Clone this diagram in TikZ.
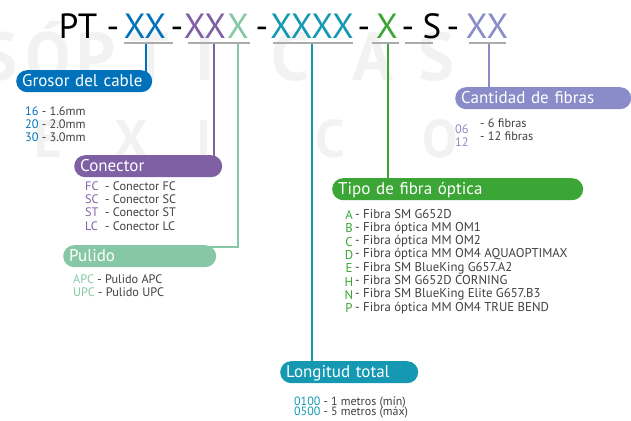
\documentclass[tikz,border=0pt]{standalone}
\usepackage{fontspec}
\setmainfont{PT Sans}
\usetikzlibrary{backgrounds}

\definecolor{cblue}{HTML}{0072BC}
\definecolor{cpurple}{HTML}{8060A5}
\definecolor{cmint}{HTML}{86C8A5}
\definecolor{cteal}{HTML}{1598B2}
\definecolor{cgreen}{HTML}{3BA536}
\definecolor{clav}{HTML}{898CC8}
\definecolor{itemg}{HTML}{404040}
\definecolor{lineg}{HTML}{ABABAB}
\definecolor{wmarkg}{HTML}{F2F2F2}

\tikzset{
  tag/.style={fill=#1, text=white, rounded corners=11pt, anchor=north west,
    minimum height=22pt, inner xsep=6pt, inner ysep=0pt, align=left,
    text height=13pt, text depth=3pt, font=\fontsize{17}{20}\selectfont},
  wire/.style={draw=#1, line width=2pt},
  uline/.style={draw=lineg, line width=2.5pt},
  head/.style={anchor=base, inner sep=0pt, text=#1, font=\fontsize{35}{40}\selectfont},
  code/.style={inner sep=0pt, text=#1, font=\fontsize{12.3}{14}\selectfont},
  item/.style={anchor=base west, inner sep=0pt, text=itemg, font=\fontsize{12.3}{14}\selectfont},
  wmark/.style={anchor=base, inner sep=0pt, text=wmarkg, font=\bfseries\fontsize{#1}{#1}\selectfont},
}

\begin{document}
\begin{tikzpicture}[x=1pt,y=-1pt]
\useasboundingbox (0,0) rectangle (631,420);

% codigo
\node[head=black] (hPT) at (78,38) {PT};
\node[head=black] (hD1) at (113,38) {-};
\node[head=cblue] (hGrosor) at (145,38) {XX};
\node[head=black] (hD2) at (177,38) {-};
\node[head=cpurple] (hCon) at (205,38) {XX};
\node[head=cmint] (hPul) at (238,38) {X};
\node[head=black] (hD3) at (262,38) {-};
\node[head=cteal] (hLong) at (312,38) {XXXX};
\node[head=black] (hD4) at (364,38) {-};
\node[head=cgreen] (hTipo) at (387,38) {X};
\node[head=black] (hD5) at (408,38) {-};
\node[head=black] (hS) at (432,38) {S};
\node[head=black] (hD6) at (453,38) {-};
\node[head=clav] (hCant) at (487,38) {XX};

\draw[uline] (124,43) -- (173,43);
\draw[uline] (188,43) -- (250,43);
\draw[uline] (273,43) -- (353,43);
\draw[uline] (372,43) -- (399,43);
\draw[uline] (405,43) -- (433,43);
\draw[uline] (469,43) -- (506,43);

\coordinate (uGrosor) at (146,44);
\coordinate (uCon) at (214,44);
\coordinate (uPul) at (238,44);
\coordinate (uLong) at (312,44);
\coordinate (uTipo) at (388,44);
\coordinate (uCant) at (489,44);

% etiquetas
\node[tag=cblue, text width=124pt] (grosor) at (16,70) {Grosor del cable};
\node[tag=cpurple, text width=136pt] (conector) at (74,155) {Conector};
\node[tag=cmint, text width=141pt] (pulido) at (63,245) {Pulido};
\node[tag=cgreen, text width=239pt] (tipo) at (332,178) {Tipo de fibra óptica};
\node[tag=clav, text width=164pt] (cantidad) at (455,87) {Cantidad de fibras};
\node[tag=cteal, text width=126pt] (longitud) at (280,361) {Longitud total};

% valores
\foreach \c/\t [count=\i] in {16/1.6mm, 20/2.0mm, 30/3.0mm}
  \node[item] (gt\i) at (25,{101.7+13.3*\i}) {\textcolor{cblue}{\c} - \t};

\foreach \c [count=\i] in {FC, SC, ST, LC} {
  \node[code=cpurple, anchor=base west] (cc\i) at (85,{177+13.3*\i}) {\c};
  \node[item] (ct\i) at (105,{177+13.3*\i}) {- Conector \c};
}

\foreach \c [count=\i] in {APC, UPC}
  \node[item] (pt\i) at (73,{270+13*\i}) {\textcolor{cmint}{\c} - Pulido \c};

\foreach \c/\t [count=\i] in {A/Fibra SM G652D, B/Fibra óptica MM OM1,
    C/Fibra óptica MM OM2, D/Fibra óptica MM OM4 AQUAOPTIMAX,
    E/Fibra SM BlueKing G657.A2, H/Fibra SM G652D CORNING,
    N/Fibra SM BlueKing Elite G657.B3, P/Fibra óptica MM OM4 TRUE BEND} {
  \node[code=cgreen, anchor=base, font=\fontsize{12.8}{14}\selectfont] (tc\i) at (349,{206.2+13.3*\i}) {\c};
  \node[item, font=\fontsize{12.8}{14}\selectfont] (tt\i) at (355,{204.7+13.3*\i}) {- \t};
}

\foreach \c/\t [count=\i] in {06/6 fibras, 12/12 fibras} {
  \node[code=clav, anchor=base west] (nc\i) at (455,{119.5+13.5*\i}) {\c};
  \node[item] (nt\i) at (480,{113.5+13.5*\i}) {- \t};
}

\node[item, font=\fontsize{12}{13}\selectfont] (lt1) at (294,405) {\textcolor{cteal}{0100} - 1 metros (mín)};
\node[item, font=\fontsize{12}{13}\selectfont] (lt2) at (294,415.5) {\textcolor{cteal}{0500} - 5 metros (máx)};

\begin{scope}[on background layer]
% marca de agua
\foreach \l/\x [count=\i] in {S/0, Ó/48, P/96, T/150, I/205, C/291, A/373, S/437}
  \node[wmark=68] (wa\i) at (\x,80) {\l};
\foreach \l/\x [count=\i] in {E/48, X/131, I/204, C/330, O/440}
  \node[wmark=53] (wb\i) at (\x,157) {\l};

\draw[wire=cblue] (uGrosor) -- ([yshift=-4pt]uGrosor |- grosor.north);
\draw[wire=cpurple] (uCon) -- ([yshift=-4pt]uCon |- conector.north);
\draw[wire=cmint] (uPul) |- ([xshift=-6pt,yshift=-2pt]pulido.north east);
\draw[wire=cteal] (uLong) -- ([yshift=-4pt]uLong |- longitud.north);
\draw[wire=cgreen] (uTipo) -- ([yshift=-4pt]uTipo |- tipo.north);
\draw[wire=clav] (uCant) -- ([yshift=-4pt]uCant |- cantidad.north);
\end{scope}
\end{tikzpicture}
\end{document}
